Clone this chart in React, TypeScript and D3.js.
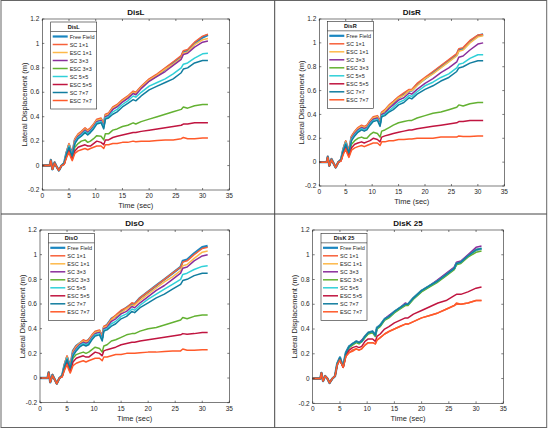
import React from 'react';
import * as d3 from 'd3';

// time samples (sec)
const time = [0, 1.4, 1.6, 1.9, 2.3, 2.7, 3.1, 3.6, 4.1, 4.5, 5.0, 5.3, 5.6, 6.1, 6.7, 7.3, 8.0, 8.5, 9.0, 9.6, 10.2, 11.0, 11.5, 11.8, 12.4, 13.2, 14.0, 15.0, 16.0, 17.0, 17.5, 18.5, 20.0, 21.5, 23.0, 24.5, 26.0, 26.4, 27.2, 28.5, 30.0, 31.0];

const seriesNames = ['Free Field', 'SC 1\u00d71', 'ESC 1\u00d71', 'SC 3\u00d73', 'ESC 3\u00d73', 'SC 5\u00d75', 'ESC 5\u00d75', 'SC 7\u00d77', 'ESC 7\u00d77'];
const seriesColors = ['#1a86c0', '#f7603a', '#fdb94a', '#8b2f9b', '#63b132', '#30d0d8', '#c01540', '#127d9f', '#ff5a2a'];
const xTicks = [0, 5, 10, 15, 20, 25, 30, 35];
const yTicks = [-0.2, 0, 0.2, 0.4, 0.6, 0.8, 1, 1.2];

// DisL
const disLFF = [0, 0, 0.045, -0.03, 0.025, -0.01, -0.04, 0, 0.02, 0.10, 0.17, 0.13, 0.09, 0.21, 0.25, 0.27, 0.30, 0.28, 0.30, 0.33, 0.37, 0.38, 0.33, 0.41, 0.42, 0.47, 0.49, 0.53, 0.56, 0.60, 0.59, 0.64, 0.70, 0.74, 0.79, 0.84, 0.89, 0.93, 0.94, 1.00, 1.05, 1.07];
const disLSC1 = [0, 0, 0.05, -0.03, 0.03, -0.01, -0.04, 0, 0.02, 0.11, 0.18, 0.13, 0.10, 0.22, 0.26, 0.28, 0.31, 0.29, 0.31, 0.34, 0.38, 0.39, 0.34, 0.42, 0.43, 0.48, 0.50, 0.54, 0.57, 0.61, 0.60, 0.65, 0.71, 0.75, 0.80, 0.85, 0.90, 0.94, 0.95, 1.01, 1.06, 1.075];
const disLESC1 = [0, 0, 0.045, -0.03, 0.025, -0.01, -0.04, 0, 0.02, 0.10, 0.17, 0.12, 0.09, 0.21, 0.25, 0.27, 0.30, 0.28, 0.30, 0.33, 0.37, 0.38, 0.33, 0.41, 0.42, 0.47, 0.49, 0.53, 0.56, 0.60, 0.59, 0.64, 0.70, 0.74, 0.79, 0.83, 0.88, 0.92, 0.93, 0.99, 1.03, 1.04];
const disLSC3 = [0, 0, 0.045, -0.03, 0.025, -0.01, -0.04, 0, 0.02, 0.10, 0.16, 0.12, 0.09, 0.20, 0.24, 0.26, 0.29, 0.27, 0.29, 0.32, 0.36, 0.37, 0.32, 0.40, 0.41, 0.46, 0.48, 0.52, 0.55, 0.59, 0.58, 0.63, 0.69, 0.73, 0.77, 0.82, 0.87, 0.91, 0.92, 0.97, 1.01, 1.02];
const disLESC3 = [0, 0, 0.04, -0.03, 0.02, -0.01, -0.04, 0, 0.015, 0.08, 0.15, 0.10, 0.06, 0.15, 0.18, 0.20, 0.21, 0.19, 0.20, 0.22, 0.245, 0.24, 0.21, 0.26, 0.26, 0.29, 0.30, 0.32, 0.33, 0.35, 0.34, 0.36, 0.38, 0.40, 0.42, 0.44, 0.46, 0.48, 0.47, 0.49, 0.50, 0.50];
const disLSC5 = [0, 0, 0.045, -0.03, 0.025, -0.01, -0.04, 0, 0.02, 0.10, 0.16, 0.12, 0.08, 0.19, 0.23, 0.25, 0.28, 0.26, 0.28, 0.31, 0.35, 0.36, 0.31, 0.39, 0.40, 0.44, 0.46, 0.50, 0.53, 0.57, 0.56, 0.60, 0.65, 0.68, 0.71, 0.75, 0.80, 0.83, 0.84, 0.88, 0.915, 0.92];
const disLESC5 = [0, 0, 0.04, -0.03, 0.02, -0.01, -0.04, 0, 0.01, 0.07, 0.13, 0.08, 0.05, 0.12, 0.15, 0.16, 0.17, 0.16, 0.16, 0.18, 0.20, 0.19, 0.17, 0.21, 0.21, 0.23, 0.24, 0.25, 0.26, 0.27, 0.27, 0.28, 0.29, 0.30, 0.31, 0.32, 0.33, 0.34, 0.34, 0.35, 0.35, 0.35];
const disLSC7 = [0, 0, 0.045, -0.03, 0.025, -0.01, -0.04, 0, 0.02, 0.09, 0.15, 0.11, 0.08, 0.18, 0.22, 0.24, 0.27, 0.25, 0.27, 0.30, 0.34, 0.35, 0.30, 0.38, 0.39, 0.42, 0.44, 0.48, 0.51, 0.54, 0.53, 0.57, 0.62, 0.65, 0.68, 0.71, 0.76, 0.79, 0.80, 0.84, 0.86, 0.86];
const disLESC7 = [0, 0, 0.04, -0.03, 0.02, -0.01, -0.04, 0, 0.01, 0.06, 0.11, 0.07, 0.04, 0.10, 0.12, 0.13, 0.14, 0.13, 0.14, 0.15, 0.16, 0.16, 0.14, 0.17, 0.17, 0.18, 0.18, 0.19, 0.19, 0.20, 0.195, 0.20, 0.20, 0.205, 0.21, 0.21, 0.22, 0.23, 0.22, 0.22, 0.225, 0.225];

// DisR
const disRFF = [0, 0, 0.045, -0.03, 0.025, -0.01, -0.045, 0, 0.02, 0.10, 0.17, 0.12, 0.09, 0.21, 0.25, 0.28, 0.30, 0.29, 0.30, 0.34, 0.37, 0.38, 0.33, 0.41, 0.43, 0.47, 0.50, 0.54, 0.57, 0.60, 0.60, 0.65, 0.70, 0.75, 0.80, 0.85, 0.90, 0.94, 0.95, 1.01, 1.06, 1.07];
const disRSC1 = [0, 0, 0.05, -0.03, 0.03, -0.01, -0.045, 0, 0.02, 0.11, 0.18, 0.13, 0.10, 0.22, 0.26, 0.29, 0.31, 0.30, 0.31, 0.35, 0.38, 0.39, 0.34, 0.42, 0.44, 0.48, 0.51, 0.55, 0.58, 0.61, 0.61, 0.66, 0.71, 0.76, 0.81, 0.86, 0.91, 0.95, 0.96, 1.02, 1.065, 1.07];
const disRESC1 = [0, 0, 0.045, -0.03, 0.025, -0.01, -0.045, 0, 0.02, 0.10, 0.17, 0.12, 0.09, 0.21, 0.25, 0.28, 0.30, 0.29, 0.30, 0.34, 0.37, 0.38, 0.33, 0.41, 0.43, 0.47, 0.50, 0.54, 0.56, 0.60, 0.60, 0.64, 0.70, 0.74, 0.79, 0.84, 0.89, 0.93, 0.94, 1.00, 1.05, 1.06];
const disRSC3 = [0, 0, 0.045, -0.03, 0.025, -0.01, -0.045, 0, 0.02, 0.10, 0.16, 0.12, 0.08, 0.20, 0.24, 0.27, 0.29, 0.28, 0.29, 0.33, 0.36, 0.37, 0.32, 0.40, 0.41, 0.45, 0.48, 0.52, 0.54, 0.58, 0.57, 0.61, 0.66, 0.70, 0.75, 0.79, 0.84, 0.88, 0.89, 0.94, 0.99, 1.00];
const disRESC3 = [0, 0, 0.04, -0.03, 0.02, -0.01, -0.045, 0, 0.015, 0.08, 0.15, 0.10, 0.06, 0.15, 0.18, 0.20, 0.21, 0.20, 0.20, 0.23, 0.25, 0.24, 0.21, 0.26, 0.27, 0.29, 0.31, 0.33, 0.34, 0.35, 0.35, 0.37, 0.39, 0.41, 0.42, 0.44, 0.46, 0.48, 0.47, 0.49, 0.50, 0.50];
const disRSC5 = [0, 0, 0.045, -0.03, 0.025, -0.01, -0.045, 0, 0.02, 0.10, 0.16, 0.11, 0.08, 0.19, 0.23, 0.26, 0.28, 0.27, 0.28, 0.32, 0.35, 0.36, 0.31, 0.39, 0.40, 0.43, 0.46, 0.50, 0.52, 0.56, 0.55, 0.59, 0.64, 0.67, 0.71, 0.74, 0.79, 0.82, 0.83, 0.87, 0.90, 0.90];
const disRESC5 = [0, 0, 0.04, -0.03, 0.02, -0.01, -0.045, 0, 0.01, 0.07, 0.13, 0.08, 0.05, 0.12, 0.15, 0.16, 0.17, 0.16, 0.17, 0.18, 0.20, 0.19, 0.17, 0.21, 0.22, 0.23, 0.24, 0.25, 0.26, 0.27, 0.27, 0.28, 0.29, 0.30, 0.31, 0.32, 0.33, 0.34, 0.34, 0.35, 0.35, 0.35];
const disRSC7 = [0, 0, 0.045, -0.03, 0.025, -0.01, -0.045, 0, 0.02, 0.09, 0.15, 0.11, 0.08, 0.18, 0.22, 0.25, 0.27, 0.26, 0.27, 0.31, 0.34, 0.35, 0.30, 0.38, 0.39, 0.42, 0.44, 0.48, 0.50, 0.54, 0.53, 0.57, 0.61, 0.64, 0.68, 0.71, 0.76, 0.79, 0.80, 0.83, 0.85, 0.85];
const disRESC7 = [0, 0, 0.04, -0.03, 0.02, -0.01, -0.045, 0, 0.01, 0.06, 0.11, 0.07, 0.04, 0.10, 0.12, 0.13, 0.14, 0.13, 0.14, 0.15, 0.16, 0.16, 0.14, 0.17, 0.17, 0.18, 0.18, 0.19, 0.19, 0.195, 0.195, 0.20, 0.20, 0.20, 0.21, 0.21, 0.21, 0.22, 0.215, 0.215, 0.22, 0.22];

// DisO
const disOFF = [0, 0, 0.045, -0.035, 0.025, -0.01, -0.045, 0, 0.02, 0.10, 0.17, 0.13, 0.09, 0.22, 0.26, 0.28, 0.30, 0.29, 0.31, 0.34, 0.37, 0.38, 0.33, 0.41, 0.43, 0.48, 0.50, 0.54, 0.57, 0.60, 0.60, 0.65, 0.70, 0.75, 0.80, 0.85, 0.90, 0.95, 0.96, 1.01, 1.06, 1.07];
const disOSC1 = [0, 0, 0.05, -0.035, 0.03, -0.01, -0.045, 0, 0.02, 0.11, 0.18, 0.13, 0.10, 0.22, 0.26, 0.28, 0.31, 0.30, 0.31, 0.35, 0.38, 0.39, 0.34, 0.42, 0.43, 0.48, 0.51, 0.55, 0.57, 0.61, 0.60, 0.65, 0.70, 0.75, 0.80, 0.85, 0.90, 0.94, 0.95, 1.00, 1.05, 1.06];
const disOESC1 = [0, 0, 0.045, -0.035, 0.025, -0.01, -0.045, 0, 0.02, 0.10, 0.17, 0.12, 0.09, 0.21, 0.25, 0.28, 0.30, 0.29, 0.30, 0.34, 0.37, 0.38, 0.33, 0.41, 0.42, 0.47, 0.50, 0.53, 0.56, 0.59, 0.59, 0.63, 0.68, 0.73, 0.78, 0.82, 0.87, 0.91, 0.92, 0.97, 1.02, 1.03];
const disOSC3 = [0, 0, 0.045, -0.035, 0.025, -0.01, -0.045, 0, 0.02, 0.10, 0.16, 0.12, 0.08, 0.20, 0.24, 0.27, 0.29, 0.28, 0.29, 0.33, 0.36, 0.37, 0.32, 0.40, 0.41, 0.46, 0.48, 0.52, 0.54, 0.58, 0.57, 0.61, 0.66, 0.71, 0.75, 0.80, 0.85, 0.89, 0.90, 0.95, 0.99, 1.00];
const disOESC3 = [0, 0, 0.04, -0.035, 0.02, -0.01, -0.045, 0, 0.015, 0.08, 0.15, 0.10, 0.06, 0.16, 0.19, 0.20, 0.21, 0.20, 0.21, 0.23, 0.25, 0.24, 0.21, 0.26, 0.27, 0.30, 0.31, 0.33, 0.35, 0.36, 0.36, 0.38, 0.40, 0.41, 0.43, 0.45, 0.47, 0.49, 0.48, 0.50, 0.51, 0.51];
const disOSC5 = [0, 0, 0.045, -0.035, 0.025, -0.01, -0.045, 0, 0.02, 0.10, 0.16, 0.11, 0.08, 0.19, 0.23, 0.26, 0.28, 0.27, 0.28, 0.32, 0.35, 0.36, 0.31, 0.39, 0.40, 0.44, 0.46, 0.50, 0.52, 0.56, 0.55, 0.59, 0.64, 0.68, 0.72, 0.76, 0.80, 0.84, 0.85, 0.88, 0.905, 0.91];
const disOESC5 = [0, 0, 0.04, -0.035, 0.02, -0.01, -0.045, 0, 0.01, 0.07, 0.13, 0.08, 0.05, 0.13, 0.16, 0.17, 0.18, 0.17, 0.17, 0.19, 0.21, 0.20, 0.18, 0.22, 0.23, 0.24, 0.25, 0.27, 0.28, 0.29, 0.29, 0.30, 0.31, 0.32, 0.33, 0.34, 0.35, 0.36, 0.355, 0.36, 0.37, 0.37];
const disOSC7 = [0, 0, 0.045, -0.035, 0.025, -0.01, -0.045, 0, 0.02, 0.09, 0.15, 0.11, 0.08, 0.18, 0.22, 0.25, 0.27, 0.26, 0.27, 0.31, 0.34, 0.35, 0.30, 0.38, 0.39, 0.42, 0.44, 0.48, 0.50, 0.54, 0.53, 0.57, 0.61, 0.65, 0.68, 0.72, 0.76, 0.79, 0.80, 0.83, 0.85, 0.85];
const disOESC7 = [0, 0, 0.04, -0.035, 0.02, -0.01, -0.045, 0, 0.01, 0.06, 0.11, 0.07, 0.04, 0.10, 0.12, 0.13, 0.14, 0.13, 0.14, 0.15, 0.16, 0.16, 0.14, 0.17, 0.17, 0.18, 0.19, 0.19, 0.20, 0.20, 0.20, 0.205, 0.21, 0.21, 0.215, 0.22, 0.22, 0.235, 0.225, 0.225, 0.23, 0.23];

// DisK 25
const disKFF = [0, 0, 0.045, -0.02, 0.02, 0, -0.035, 0, 0.02, 0.12, 0.17, 0.13, 0.10, 0.21, 0.26, 0.28, 0.30, 0.29, 0.30, 0.34, 0.37, 0.38, 0.35, 0.41, 0.43, 0.48, 0.50, 0.54, 0.57, 0.60, 0.60, 0.65, 0.71, 0.75, 0.79, 0.84, 0.89, 0.93, 0.94, 0.99, 1.04, 1.05];
const disKSC1 = [0, 0, 0.045, -0.02, 0.02, 0, -0.035, 0, 0.02, 0.11, 0.15, 0.12, 0.09, 0.18, 0.21, 0.23, 0.24, 0.23, 0.24, 0.27, 0.29, 0.29, 0.28, 0.31, 0.33, 0.36, 0.38, 0.40, 0.42, 0.44, 0.44, 0.46, 0.49, 0.51, 0.53, 0.56, 0.59, 0.60, 0.60, 0.61, 0.63, 0.63];
const disKESC1 = [0, 0, 0.045, -0.02, 0.02, 0, -0.035, 0, 0.02, 0.12, 0.17, 0.13, 0.10, 0.21, 0.26, 0.28, 0.30, 0.29, 0.30, 0.34, 0.37, 0.38, 0.35, 0.41, 0.43, 0.48, 0.50, 0.54, 0.57, 0.60, 0.60, 0.65, 0.71, 0.75, 0.79, 0.84, 0.89, 0.93, 0.94, 0.99, 1.04, 1.05];
const disKSC3 = [0, 0, 0.045, -0.02, 0.02, 0, -0.035, 0, 0.02, 0.12, 0.17, 0.13, 0.10, 0.21, 0.26, 0.28, 0.30, 0.29, 0.31, 0.34, 0.37, 0.38, 0.35, 0.41, 0.43, 0.48, 0.51, 0.54, 0.57, 0.61, 0.60, 0.65, 0.71, 0.75, 0.80, 0.85, 0.90, 0.94, 0.95, 1.00, 1.06, 1.07];
const disKESC3 = [0, 0, 0.045, -0.02, 0.02, 0, -0.035, 0, 0.02, 0.12, 0.16, 0.12, 0.10, 0.20, 0.25, 0.27, 0.29, 0.28, 0.30, 0.33, 0.36, 0.37, 0.34, 0.40, 0.42, 0.47, 0.49, 0.53, 0.56, 0.59, 0.59, 0.64, 0.70, 0.74, 0.78, 0.83, 0.88, 0.92, 0.93, 0.98, 1.02, 1.03];
const disKSC5 = [0, 0, 0.045, -0.02, 0.02, 0, -0.035, 0, 0.02, 0.12, 0.17, 0.13, 0.10, 0.21, 0.26, 0.28, 0.30, 0.29, 0.30, 0.34, 0.37, 0.38, 0.35, 0.41, 0.43, 0.48, 0.50, 0.54, 0.57, 0.60, 0.60, 0.65, 0.71, 0.75, 0.79, 0.84, 0.89, 0.93, 0.94, 0.99, 1.04, 1.05];
const disKESC5 = [0, 0, 0.045, -0.02, 0.02, 0, -0.035, 0, 0.02, 0.11, 0.16, 0.12, 0.09, 0.19, 0.23, 0.25, 0.26, 0.25, 0.26, 0.30, 0.32, 0.32, 0.30, 0.34, 0.36, 0.40, 0.42, 0.45, 0.47, 0.49, 0.49, 0.52, 0.55, 0.58, 0.61, 0.63, 0.67, 0.68, 0.68, 0.70, 0.73, 0.74];
const disKSC7 = [0, 0, 0.045, -0.02, 0.02, 0, -0.035, 0, 0.02, 0.12, 0.17, 0.13, 0.10, 0.21, 0.26, 0.28, 0.30, 0.29, 0.30, 0.34, 0.37, 0.38, 0.35, 0.41, 0.43, 0.48, 0.50, 0.54, 0.57, 0.60, 0.60, 0.65, 0.71, 0.75, 0.79, 0.84, 0.89, 0.93, 0.94, 0.99, 1.04, 1.05];
const disKESC7 = [0, 0, 0.045, -0.02, 0.02, 0, -0.035, 0, 0.02, 0.11, 0.15, 0.12, 0.09, 0.18, 0.21, 0.22, 0.24, 0.23, 0.24, 0.27, 0.29, 0.29, 0.28, 0.31, 0.33, 0.36, 0.38, 0.40, 0.42, 0.44, 0.44, 0.46, 0.49, 0.51, 0.53, 0.56, 0.59, 0.61, 0.60, 0.61, 0.63, 0.63];

const FONT = '"Liberation Sans", Arial, sans-serif';

type PanelProps = {
  title: string;
  series: number[][];
  left: number; right: number; top: number; bottom: number;
  legendX: number; legendY: number;
};

function Panel({ title, series, left, right, top, bottom, legendX, legendY }: PanelProps) {
  const x = d3.scaleLinear().domain([0, 35]).range([left, right]);
  const y = d3.scaleLinear().domain([-0.2, 1.2]).range([bottom, top]);
  const ln = d3.line<number>().x((_, i) => x(time[i])).y((v) => y(v));
  const cx = (left + right) / 2;
  const cy = (top + bottom) / 2;
  const lw = 46, lh = 87;

  return (
    <g fontFamily={FONT}>
      <rect x={left} y={top} width={right - left} height={bottom - top} fill="#fff" />
      {series.map((s, i) => (
        <path key={i} d={ln(s) || ''} fill="none" stroke={seriesColors[i]}
          strokeWidth={i === 0 ? 2.4 : 1.5} strokeLinejoin="round" />
      ))}
      <rect x={left} y={top} width={right - left} height={bottom - top} fill="none" stroke="#262626" strokeWidth={0.6} />
      {xTicks.map((t) => (
        <g key={'x' + t}>
          <line x1={x(t)} x2={x(t)} y1={bottom} y2={bottom - 2} stroke="#262626" strokeWidth={0.6} />
          <line x1={x(t)} x2={x(t)} y1={top} y2={top + 2} stroke="#262626" strokeWidth={0.6} />
          <text x={x(t)} y={bottom + 8} fontSize={6.5} textAnchor="middle" fill="#262626">{t}</text>
        </g>
      ))}
      {yTicks.map((t) => (
        <g key={'y' + t}>
          <line x1={left} x2={left + 2} y1={y(t)} y2={y(t)} stroke="#262626" strokeWidth={0.6} />
          <line x1={right} x2={right - 2} y1={y(t)} y2={y(t)} stroke="#262626" strokeWidth={0.6} />
          <text x={left - 3} y={y(t) + 2.2} fontSize={6.5} textAnchor="end" fill="#262626">{+t.toFixed(1)}</text>
        </g>
      ))}
      <text x={cx} y={top - 4} fontSize={8} fontWeight="bold" textAnchor="middle" fill="#111">{title}</text>
      <text x={cx} y={bottom + 18} fontSize={7.5} textAnchor="middle" fill="#262626">Time (sec)</text>
      <text transform={`translate(${left - 15.5},${cy}) rotate(-90)`} fontSize={7.5} textAnchor="middle" fill="#262626">Lateral Displacement (m)</text>
      <g transform={`translate(${legendX},${legendY})`}>
        <rect x={0} y={0} width={lw} height={lh} fill="#fff" stroke="#262626" strokeWidth={0.6} />
        <line x1={0} x2={lw} y1={9.5} y2={9.5} stroke="#262626" strokeWidth={0.6} />
        <text x={lw / 2} y={7.2} fontSize={5.6} fontWeight="bold" textAnchor="middle" fill="#111">{title}</text>
        {seriesNames.map((n, i) => (
          <g key={n} transform={`translate(0,${14.5 + i * 8})`}>
            <line x1={2} x2={17} y1={0} y2={0} stroke={seriesColors[i]} strokeWidth={i === 0 ? 2.2 : 1.5} />
            <text x={19} y={2} fontSize={5.5} fill="#262626">{n}</text>
          </g>
        ))}
      </g>
    </g>
  );
}

export default function App() {
  return (
    <svg width={550} height={431} style={{ position: 'absolute', left: 0, top: 0, background: '#fff' }}>
      <rect x={0} y={0} width={550} height={431} fill="#fff" />
      <Panel title="DisL" left={42.3} right={229.3} top={19} bottom={190} legendX={50.7} legendY={22}
        series={[disLFF, disLSC1, disLESC1, disLSC3, disLESC3, disLSC5, disLESC5, disLSC7, disLESC7]} />
      <Panel title="DisR" left={319.3} right={504.3} top={19} bottom={186} legendX={327.3} legendY={21.3}
        series={[disRFF, disRSC1, disRESC1, disRSC3, disRESC3, disRSC5, disRESC5, disRSC7, disRESC7]} />
      <Panel title="DisO" left={40} right={229.3} top={230} bottom={402.7} legendX={48.3} legendY={233.3}
        series={[disOFF, disOSC1, disOESC1, disOSC3, disOESC3, disOSC5, disOESC5, disOSC7, disOESC7]} />
      <Panel title="DisK 25" left={312.7} right={503.3} top={230} bottom={403.3} legendX={321} legendY={233.3}
        series={[disKFF, disKSC1, disKESC1, disKSC3, disKESC3, disKSC5, disKESC5, disKSC7, disKESC7]} />
      <rect x={1} y={0.5} width={545.7} height={427} fill="none" stroke="#666" strokeWidth={1} />
      <line x1={274.7} x2={274.7} y1={0.5} y2={427.5} stroke="#444" strokeWidth={1} />
      <line x1={1} x2={546.7} y1={214} y2={214} stroke="#444" strokeWidth={1} />
    </svg>
  );
}
